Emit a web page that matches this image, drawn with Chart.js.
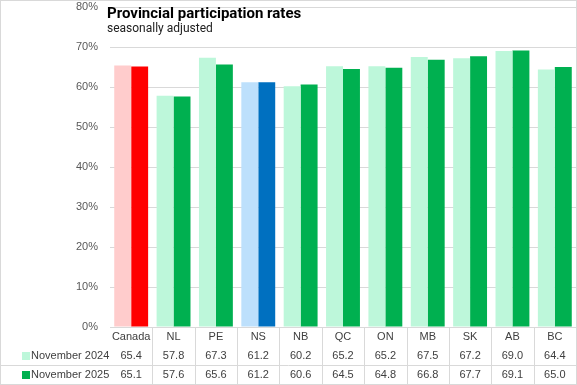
<!DOCTYPE html>
<html>
<head>
<meta charset="utf-8">
<script src="https://cdn.jsdelivr.net/npm/chart.js@4"></script>
<style>
  html, body { margin: 0; padding: 0; background: #fff; }
  #wrap { width: 575px; height: 383px; border: 1px solid #D9D9D9; position: relative; }
</style>
</head>
<body>
<div id="wrap"><canvas id="chart"></canvas></div>
<script>
// data
const categories = ["Canada", "NL", "PE", "NS", "NB", "QC", "ON", "MB", "SK", "AB", "BC"];
const seriesNames = ["November 2024", "November 2025"];
const nov2024 = [65.4, 57.8, 67.3, 61.2, 60.2, 65.2, 65.2, 67.5, 67.2, 69.0, 64.4];
const nov2025 = [65.1, 57.6, 65.6, 61.2, 60.6, 64.5, 64.8, 66.8, 67.7, 69.1, 65.0];
const yTicks = [0, 10, 20, 30, 40, 50, 60, 70, 80];

const LIGHT = { Canada: "#FFCCCC", NS: "#BDE0FC", other: "#BDF7DA" };
const DARK = { Canada: "#FF0000", NS: "#0070C0", other: "#00B050" };
const pick = (map) => categories.map(c => map[c] || map.other);

const FONT = "'Liberation Sans', Arial, sans-serif";
const TXT = "#404040";

// title, subtitle and data table below the x axis
const tablePlugin = {
  id: "tablePlugin",
  afterDraw(chart) {
    const ctx = chart.ctx;
    const x = chart.scales.x;
    const area = chart.chartArea;
    const rows = [nov2024, nov2025];
    const rowTop = [345, 364];
    const rowH = [19, 20];
    const bottom = 384;
    const half = (x.getPixelForValue(1) - x.getPixelForValue(0)) / 2;

    ctx.save();
    ctx.strokeStyle = "#D9D9D9";
    ctx.lineWidth = 1;
    // vertical separators
    for (let i = 1; i < categories.length; i++) {
      const px = Math.round(x.getPixelForValue(i) - half) + 0.5;
      ctx.beginPath();
      ctx.moveTo(px, area.bottom);
      ctx.lineTo(px, bottom);
      ctx.stroke();
    }
    // horizontal separator between series rows
    ctx.beginPath();
    ctx.moveTo(0, rowTop[1] + 0.5);
    ctx.lineTo(area.right, rowTop[1] + 0.5);
    ctx.stroke();

    ctx.font = "11px " + FONT;
    ctx.textBaseline = "middle";
    // category row
    ctx.fillStyle = TXT;
    ctx.textAlign = "center";
    categories.forEach((c, i) => {
      ctx.fillText(c, x.getPixelForValue(i), area.bottom + 10);
    });
    rows.forEach((vals, r) => {
      const cy = rowTop[r] + rowH[r] / 2;
      ctx.fillStyle = TXT;
      ctx.textAlign = "center";
      vals.forEach((v, i) => {
        ctx.fillText(v.toFixed(1), x.getPixelForValue(i), cy);
      });
      // legend key
      ctx.fillStyle = r === 0 ? LIGHT.other : DARK.other;
      ctx.fillRect(21, Math.round(cy) - 4, 8, 8);
      ctx.fillStyle = TXT;
      ctx.textAlign = "left";
      ctx.fillText(seriesNames[r], 30, cy);
    });

    // title block
    ctx.fillStyle = "#000";
    ctx.textAlign = "left";
    ctx.textBaseline = "alphabetic";
    ctx.font = "bold 15px Roboto, sans-serif";
    ctx.fillText("Provincial participation rates", 106, 17);
    ctx.font = "12px Roboto, sans-serif";
    ctx.fillStyle = "#202020";
    ctx.fillText("seasonally adjusted", 106, 31);
    ctx.restore();
  }
};

new Chart(document.getElementById("chart"), {
  type: "bar",
  data: {
    labels: categories,
    datasets: [
      {
        label: seriesNames[0],
        data: nov2024,
        backgroundColor: pick(LIGHT),
        categoryPercentage: 0.8,
        barPercentage: 1.0,
      },
      {
        label: seriesNames[1],
        data: nov2025,
        backgroundColor: pick(DARK),
        categoryPercentage: 0.8,
        barPercentage: 1.0,
      },
    ],
  },
  options: {
    responsive: true,
    maintainAspectRatio: false,
    animation: false,
    layout: {
      padding: { top: 6, right: 0, bottom: 39, left: 0 },
    },
    plugins: {
      legend: { display: false },
      title: { display: false },
      tooltip: { enabled: false },
    },
    scales: {
      x: {
        grid: { display: false },
        border: { display: false },
        ticks: { display: false },
        afterFit: (s) => { s.height = 18; s.paddingLeft = 0; s.paddingRight = 0; },
      },
      y: {
        min: 0,
        max: 80,
        afterBuildTicks: (s) => { s.ticks = yTicks.map(v => ({ value: v })); },
        grid: { color: "#D9D9D9", drawTicks: false },
        border: { display: false },
        ticks: {
          color: "#595959",
          font: { family: FONT, size: 11 },
          padding: 12,
          callback: (v) => v + "%",
        },
        afterFit: (s) => { s.width = 109; s.paddingTop = 0; s.paddingBottom = 0; },
      },
    },
  },
  plugins: [tablePlugin],
});
</script>
</body>
</html>
